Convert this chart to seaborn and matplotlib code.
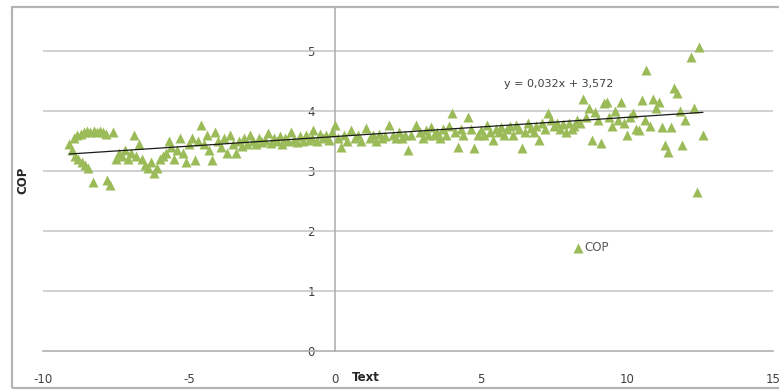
import matplotlib
matplotlib.use("Agg")
import matplotlib.pyplot as plt
import seaborn as sns
import pandas as pd
from matplotlib.patches import Rectangle

# === Data ===
text_x = [
    -9.1, -9.0, -8.95, -8.9, -8.85, -8.8, -8.7, -8.65, -8.6, -8.55, -8.5, -8.45, -8.4, -8.3,
    -8.25, -8.15, -8.05, -7.95, -7.85, -7.8, -7.7, -7.6, -7.5, -7.4, -7.3, -7.2, -7.1, -7.0,
    -6.9, -6.8, -6.7, -6.6, -6.5, -6.4, -6.3, -6.2, -6.1, -6.0, -5.9, -5.8, -5.7, -5.6,
    -5.5, -5.4, -5.3, -5.2, -5.1, -5.0, -4.9, -4.8, -4.7, -4.6, -4.5, -4.4, -4.3, -4.2,
    -4.1, -4.0, -3.9, -3.8, -3.7, -3.6, -3.5, -3.4, -3.3, -3.2, -3.1, -3.0, -2.9, -2.8,
    -2.7, -2.6, -2.5, -2.4, -2.3, -2.2, -2.1, -2.0, -1.9, -1.8, -1.7, -1.6, -1.5, -1.4,
    -1.3, -1.2, -1.1, -1.0, -0.9, -0.8, -0.75, -0.6, -0.5, -0.4, -0.3, -0.2, -0.1, 0.0,
    0.1, 0.2, 0.3, 0.4, 0.55, 0.7, 0.8, 0.9, 1.06, 1.2, 1.3, 1.4, 1.5, 1.6,
    1.7, 1.85, 2.0, 2.1, 2.2, 2.3, 2.4, 2.5, 2.6, 2.77, 2.9, 3.0, 3.1, 3.2,
    3.3, 3.4, 3.5, 3.6, 3.7, 3.8, 3.9, 4.0, 4.1, 4.2, 4.3, 4.4, 4.55, 4.65,
    4.76, 4.9, 5.0, 5.1, 5.2, 5.3, 5.4, 5.5, 5.6, 5.7, 5.8, 5.9, 6.0, 6.1,
    6.2, 6.3, 6.4, 6.5, 6.6, 6.7, 6.8, 6.9, 7.0, 7.1, 7.2, 7.3, 7.4, 7.5,
    7.6, 7.7, 7.8, 7.9, 8.0, 8.1, 8.2, 8.3, 8.4, 8.5, 8.6, 8.7, 8.8, 8.9,
    9.0, 9.1, 9.2, 9.3, 9.4, 9.5, 9.6, 9.7, 9.8, 9.9, 10.0, 10.1, 10.2, 10.3,
    10.4, 10.5, 10.6, 10.65, 10.8, 10.9, 11.0, 11.1, 11.2, 11.3, 11.4, 11.5, 11.6, 11.7,
    11.8, 11.9, 12.0, 12.2, 12.3, 12.4, 12.47, 12.6,
]
cop = [
    3.45, 3.35, 3.55, 3.25, 3.6, 3.2, 3.62, 3.15, 3.65, 3.1, 3.66, 3.05, 3.65, 2.82,
    3.67, 3.65, 3.66, 3.64, 3.62, 2.85, 2.77, 3.65, 3.2, 3.3, 3.25, 3.35, 3.2, 3.3,
    3.6, 3.25, 3.45, 3.2, 3.1, 3.05, 3.15, 2.97, 3.05, 3.2, 3.25, 3.3, 3.5, 3.4,
    3.2, 3.35, 3.55, 3.3, 3.15, 3.45, 3.55, 3.18, 3.5, 3.77, 3.45, 3.6, 3.35, 3.18,
    3.65, 3.5, 3.4, 3.55, 3.3, 3.6, 3.45, 3.3, 3.5, 3.42, 3.55, 3.45, 3.6, 3.5,
    3.45, 3.55, 3.48, 3.52, 3.63, 3.47, 3.55, 3.5, 3.58, 3.45, 3.55, 3.5, 3.65, 3.52,
    3.48, 3.58, 3.5, 3.6, 3.52, 3.55, 3.68, 3.5, 3.62, 3.55, 3.6, 3.52, 3.65, 3.77,
    3.55, 3.4, 3.6, 3.5, 3.68, 3.55, 3.6, 3.5, 3.72, 3.55, 3.6, 3.5, 3.62, 3.55,
    3.58, 3.77, 3.6, 3.55, 3.65, 3.55, 3.6, 3.35, 3.6, 3.77, 3.65, 3.55, 3.68, 3.6,
    3.73, 3.6, 3.65, 3.55, 3.7, 3.6, 3.75, 3.97, 3.65, 3.4, 3.7, 3.6, 3.9, 3.7,
    3.38, 3.6, 3.68, 3.6, 3.77, 3.65, 3.52, 3.7, 3.65, 3.73, 3.6, 3.7, 3.75, 3.6,
    3.77, 3.7, 3.38, 3.65, 3.8, 3.72, 3.65, 3.75, 3.52, 3.8, 3.7, 3.97, 3.85, 3.75,
    3.8, 3.7, 3.78, 3.65, 3.8, 3.7, 3.75, 3.85, 3.8, 4.2, 3.9, 4.05, 3.52, 3.98,
    3.85, 3.47, 4.13, 4.15, 3.9, 3.75, 4.0, 3.85, 4.15, 3.8, 3.6, 3.9, 3.97, 3.7,
    3.68, 4.18, 3.85, 4.68, 3.75, 4.2, 4.05, 4.15, 3.73, 3.43, 3.32, 3.73, 4.38, 4.3,
    4.0, 3.43, 3.85, 4.9, 4.05, 2.65, 5.07, 3.6,
]
slope = 0.032
intercept = 3.572
equation = "y = 0,032x + 3,572"
x_ticks = [-10, -5, 0, 5, 10, 15]
y_ticks = [0, 1, 2, 3, 4, 5]

df = pd.DataFrame({"Text": text_x, "COP": cop})

sns.set_style("white")
plt.rcParams["font.family"] = ["DejaVu Sans"]
plt.rcParams["axes.unicode_minus"] = False

fig = plt.figure(figsize=(7.79, 3.9), dpi=100)
ax = fig.add_axes([43 / 779, 39 / 390, 730 / 779, 344 / 390])

# outer chart border (Excel style)
fig.patches.append(Rectangle((12 / 779, 2 / 390), 1.2, 381 / 390, transform=fig.transFigure,
                             fill=False, edgecolor="#b4b4b4", linewidth=1.6, zorder=0))

for yv in y_ticks[1:]:
    ax.axhline(yv, color="#c8c8c8", linewidth=1.2, zorder=1)

sns.scatterplot(data=df, x="Text", y="COP", marker="^", color="#9bbb59", s=52,
                linewidth=0, ax=ax, label="COP", zorder=3)

# trendline from the fitted equation
line_x = [min(text_x), max(text_x)]
line_y = [slope * v + intercept for v in line_x]
sns.lineplot(x=line_x, y=line_y, color="#1a1a1a", linewidth=0.9, ax=ax, zorder=4)

ax.text(7.67, 4.45, equation, fontsize=8, color="#404040", ha="center", va="center")

ax.set_xlim(-10, 15)
ax.set_ylim(0, 5.73)
ax.set_xticks(x_ticks)
ax.set_yticks(y_ticks)

for side in ["top", "right"]:
    ax.spines[side].set_visible(False)
ax.spines["left"].set_position(("data", 0))
ax.spines["bottom"].set_position(("data", 0))
ax.spines["left"].set_color("#b0b0b0")
ax.spines["bottom"].set_color("#b0b0b0")
ax.spines["left"].set_linewidth(1.2)
ax.spines["bottom"].set_linewidth(1.2)

ax.tick_params(axis="x", direction="inout", length=5, width=1, color="#b0b0b0",
               labelsize=8.5, labelcolor="#404040", pad=13)
ax.tick_params(axis="y", direction="inout", length=5, width=1, color="#b0b0b0",
               labelsize=8.5, labelcolor="#404040", pad=12)

ax.set_xlabel("Text", fontsize=8.5, fontweight="bold", color="#262626")
ax.xaxis.set_label_coords(0.442, -0.058)
ax.set_ylabel("COP", fontsize=8.5, fontweight="bold", color="#262626")
ax.yaxis.set_label_coords(-0.018, 0.497)

leg = ax.legend(loc="center left", bbox_to_anchor=(0.72, 0.30), frameon=False,
                handletextpad=0.1, handlelength=0.8, fontsize=8.5, borderaxespad=0)
for t in leg.get_texts():
    t.set_color("#595959")

plt.savefig("out.png", dpi=100)
plt.close()
